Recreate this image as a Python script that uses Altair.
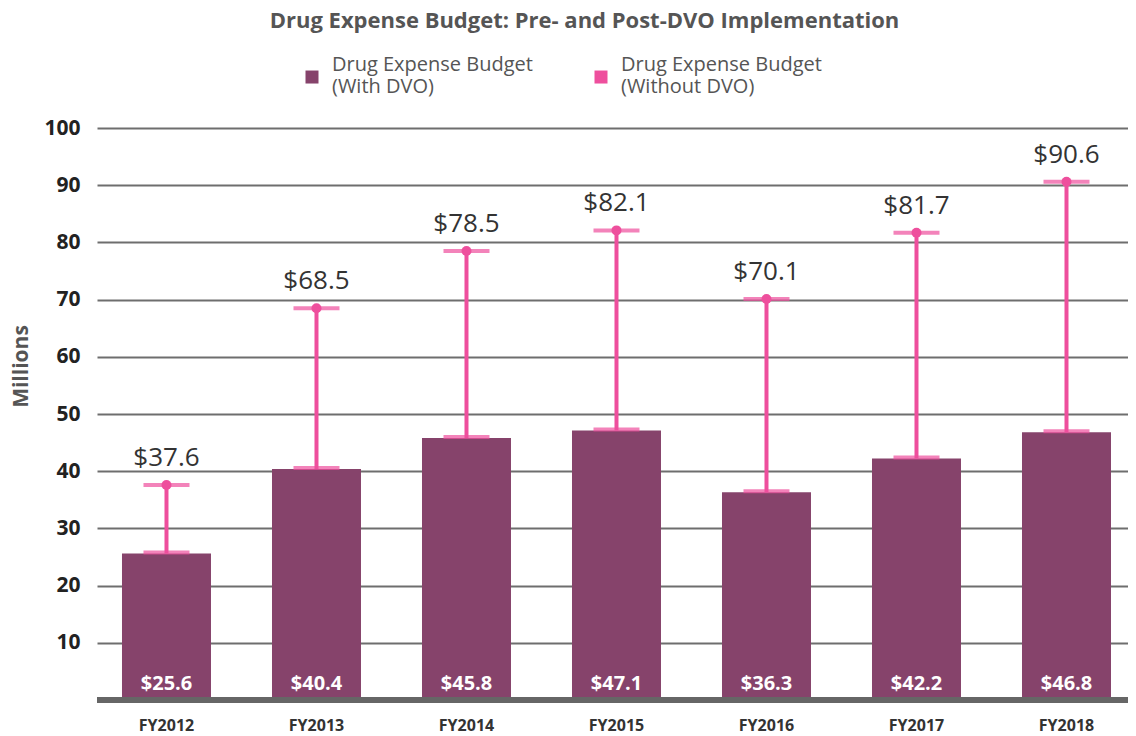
import altair as alt
import pandas as pd

categories = ["FY2012", "FY2013", "FY2014", "FY2015", "FY2016", "FY2017", "FY2018"]
with_dvo = [25.6, 40.4, 45.8, 47.1, 36.3, 42.2, 46.8]
without_dvo = [37.6, 68.5, 78.5, 82.1, 70.1, 81.7, 90.6]
series_names = ["Drug Expense Budget|(With DVO)", "Drug Expense Budget|(Without DVO)"]
y_ticks = [10, 20, 30, 40, 50, 60, 70, 80, 90, 100]

PURPLE = "#86436B"
PINK = "#EE4F9D"
FONT = "Open Sans"

df = pd.DataFrame({
    "fy": categories,
    "with": with_dvo,
    "without": without_dvo,
    "series": [series_names[0]] * len(categories),
    "with_lbl": [f"${v:.1f}" for v in with_dvo],
    "without_lbl": [f"${v:.1f}" for v in without_dvo],
})

xs = alt.X("fy:N", sort=categories, title=None,
           scale=alt.Scale(paddingInner=0.4067, paddingOuter=0.14, align=0.595),
           axis=alt.Axis(labelFont=FONT, labelFontSize=16, labelFontWeight="bold",
                         labelColor="#333", labelPadding=17, ticks=False, domain=False,
                         labelAngle=0))
yscale = alt.Scale(domain=[0, 100], nice=False)

base = alt.Chart(df)

bars = base.mark_bar(size=89).encode(
    x=xs,
    y=alt.Y("with:Q", scale=yscale, title="Millions",
            axis=alt.Axis(values=y_ticks, grid=True, gridColor="#6e6e6e", gridWidth=2,
                          domain=False, ticks=False, labelFont=FONT, labelFontSize=21,
                          labelFontWeight="bold", labelColor="#222", labelPadding=17,
                          titleFont=FONT, titleFontSize=21, titleFontWeight="bold",
                          titleColor="#555", titleX=-76, titleY=238, titleAngle=270,
                          titleAlign="center", titleBaseline="middle")),
    color=alt.Color("series:N",
                    scale=alt.Scale(domain=series_names, range=[PURPLE, PINK]),
                    legend=alt.Legend(orient="none", legendX=205, legendY=-73,
                                      direction="horizontal", title=None,
                                      symbolType="M-1,0.85H1V2.85H-1Z", symbolSize=169,
                                      symbolStrokeWidth=0, symbolOpacity=1,
                                      labelFont=FONT, labelFontSize=20, labelColor="#555",
                                      labelLimit=400, labelOffset=10, columnPadding=58,
                                      labelExpr="split(datum.label, '|')")),
)

stem = base.mark_rule(color=PINK, strokeWidth=4).encode(
    x=alt.X("fy:N", sort=categories), y="with:Q", y2="without:Q")

cap_top = base.mark_tick(color=PINK, size=46, thickness=4).encode(
    x=alt.X("fy:N", sort=categories), y="without:Q")
cap_bot = base.mark_tick(color=PINK, size=46, thickness=4, yOffset=-1).encode(
    x=alt.X("fy:N", sort=categories), y="with:Q")
dot = base.mark_circle(color=PINK, size=100, opacity=1).encode(
    x=alt.X("fy:N", sort=categories), y="without:Q")

top_lbl = base.mark_text(font=FONT, fontSize=26, color="#333", baseline="bottom", dy=-14).encode(
    x=alt.X("fy:N", sort=categories), y="without:Q", text="without_lbl:N")

in_lbl = base.mark_text(font=FONT, fontSize=20, fontWeight="bold", color="white",
                        baseline="alphabetic", dy=-10).encode(
    x=alt.X("fy:N", sort=categories), y=alt.datum(0), text="with_lbl:N")

baseline = base.mark_rule(color="#666", strokeWidth=6).encode(
    y=alt.datum(0), x=alt.value(0), x2=alt.value(1031))

chart = alt.layer(bars, stem, cap_bot, cap_top, dot, top_lbl, in_lbl, baseline).properties(
    width=1031, height=572,
    autosize=alt.AutoSizeParams(type="none"),
    padding={"left": 89, "top": 120, "right": 0, "bottom": 36},
    title=alt.TitleParams("Drug Expense Budget: Pre- and Post-DVO Implementation",
                          font=FONT, fontSize=22, fontWeight="bold", color="#555",
                          anchor="middle", frame="group", dx=-28, offset=22),
).configure_view(stroke=None)

chart.save("out.html", embed_options={"renderer": "svg", "actions": False})
